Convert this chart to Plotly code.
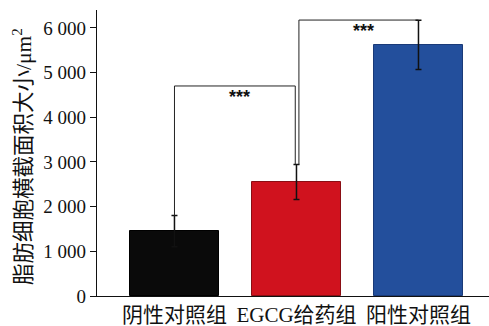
import plotly.graph_objects as go

categories = ["阴性对照组", "EGCG给药组", "阳性对照组"]
values = [1450, 2550, 5620]
errors = [350, 390, 550]
colors = ["#0a0a0a", "#d0121e", "#234f9c"]
outline = ["#000000", "#8a0e14", "#1a3a78"]
ytick_vals = [0, 1000, 2000, 3000, 4000, 5000, 6000]
ytick_text = ["0", "1 000", "2 000", "3 000", "4 000", "5 000", "6 000"]
sig_pairs = [(0, 1), (1, 2)]
sig_heights = [4700, 6175]
sig_labels = ["***", "***"]
y_title = "脂肪细胞横截面积大小/μm<sup>2</sup>"

xs = list(range(len(categories)))
FONT = "Liberation Serif, Times New Roman, Noto Sans CJK SC, serif"

fig = go.Figure()
fig.add_trace(go.Bar(
    x=xs, y=values, width=0.73,
    marker=dict(color=colors, line=dict(color=outline, width=1)),
    error_y=dict(type="data", array=errors, color="#111111", thickness=1.5, width=3),
    hoverinfo="skip",
))

tops = [v + e for v, e in zip(values, errors)]
for (a, b), h, lab in zip(sig_pairs, sig_heights, sig_labels):
    xa = a + (0.02 if a == 1 else 0)
    xb = b - (0.01 if b == 1 else 0)
    fig.add_shape(type="line", xref="x", yref="y", x0=xa, x1=xa, y0=tops[a], y1=h,
                  line=dict(color="#222", width=1))
    fig.add_shape(type="line", xref="x", yref="y", x0=xa, x1=xb, y0=h, y1=h,
                  line=dict(color="#222", width=1))
    fig.add_shape(type="line", xref="x", yref="y", x0=xb, x1=xb, y0=h, y1=tops[b],
                  line=dict(color="#222", width=1))
    fig.add_annotation(x=(xa + xb) / 2 + 0.04, y=h, text="<b>" + lab + "</b>", showarrow=False,
                       yanchor="top", yshift=1,
                       font=dict(family="Liberation Sans, Arial, sans-serif", size=18, color="#111"))

fig.add_annotation(xref="paper", yref="paper", x=0, y=0.5, xshift=-75, yshift=-4,
                   xanchor="center", yanchor="middle",
                   text=y_title, textangle=-90, showarrow=False,
                   font=dict(family=FONT, size=21.5, color="#111"))

fig.update_layout(
    width=489, height=326,
    margin=dict(l=97, r=0, t=10, b=30),
    paper_bgcolor="white", plot_bgcolor="white",
    showlegend=False,
    font=dict(family=FONT, size=19, color="#111"),
    bargap=0,
)
fig.update_xaxes(
    range=[-0.635, 2.578], tickvals=xs, ticktext=categories, automargin=False,
    showline=True, linecolor="#111", linewidth=1.2, ticks="", showgrid=False,
    zeroline=False, tickfont=dict(family=FONT, size=21, color="#111"),
)
fig.update_yaxes(
    range=[0, 6400], tickvals=ytick_vals, ticktext=ytick_text, automargin=False,
    showline=True, linecolor="#111", linewidth=1.2, ticks="outside", ticklen=6,
    tickcolor="#111", showgrid=False, zeroline=False,
    tickfont=dict(family=FONT, size=19, color="#111"),
)

fig.write_html("out.html", config={"displayModeBar": False},
               post_script="document.body.style.margin='0';document.body.style.overflow='hidden';")
